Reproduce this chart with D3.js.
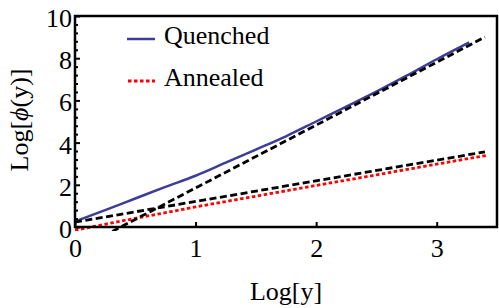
<!DOCTYPE html>
<html>
<head>
<meta charset="utf-8">
<script src="https://cdn.jsdelivr.net/npm/d3@7"></script>
<style>
  body { margin: 0; background: #fff; }
  svg { display: block; }
  svg text { font-family: "Liberation Serif", "Times New Roman", "DejaVu Serif", serif; }
</style>
</head>
<body>
<svg id="chart" width="499" height="308"></svg>
<script>
// values
const quenchedX = [0, 0.25, 0.5, 0.75, 1, 1.25, 1.5, 1.75, 2, 2.25, 2.5, 2.75, 3, 3.27];
const quenchedY = [0.26, 0.8, 1.35, 1.9, 2.43, 3.05, 3.67, 4.3, 5.0, 5.7, 6.42, 7.17, 7.95, 8.75];
const annealedX = [0, 0.25, 0.5, 0.75, 1, 1.5, 2, 2.5, 3, 3.41];
const annealedY = [-0.15, 0.13, 0.41, 0.68, 0.95, 1.46, 1.97, 2.47, 2.98, 3.39];
const steepX = [0, 3.4];
const steepY = [-1.13, 9.0];
const shallowX = [0, 3.4];
const shallowY = [0.23, 3.56];
const xTicks = [0, 1, 2, 3];
const yTicks = [0, 2, 4, 6, 8, 10];
const legendNames = ["Quenched", "Annealed"];

const svg = d3.select("#chart");
const plotLeft = 75, plotRight = 497, plotTop = 16, plotBottom = 227;

const x = d3.scaleLinear().domain([0, 3.5]).range([plotLeft, plotRight]);
const y = d3.scaleLinear().domain([0, 10]).range([plotBottom, plotTop]);

svg.append("defs").append("clipPath")
    .attr("id", "clip")
    .append("rect")
    .attr("x", plotLeft)
    .attr("y", plotTop)
    .attr("width", plotRight - plotLeft)
    .attr("height", plotBottom - plotTop + 4);

const zip = (xs, ys) => xs.map((v, i) => [v, ys[i]]);
const line = d3.line().x(d => x(d[0])).y(d => y(d[1])).curve(d3.curveMonotoneX);

const plot = svg.append("g").attr("clip-path", "url(#clip)");

plot.append("path")
    .attr("d", line(zip(quenchedX, quenchedY)))
    .attr("fill", "none")
    .attr("stroke", "#3d3d99")
    .attr("stroke-width", 2.5);

plot.append("path")
    .attr("d", line(zip(annealedX, annealedY)))
    .attr("fill", "none")
    .attr("stroke", "#ff0000")
    .attr("stroke-width", 2.8)
    .attr("stroke-dasharray", "3.5,2.5");

[zip(steepX, steepY), zip(shallowX, shallowY)].forEach(pts => {
    plot.append("path")
        .attr("d", line(pts))
        .attr("fill", "none")
        .attr("stroke", "#000")
        .attr("stroke-width", 2.8)
        .attr("stroke-dasharray", "7,3.5");
});

// axes with inward ticks
const yAxis = svg.append("g")
    .attr("transform", `translate(${plotLeft},0)`)
    .call(d3.axisLeft(y).tickValues(yTicks).tickFormat(d3.format("d"))
        .tickSizeInner(-5).tickSizeOuter(0).tickPadding(3));
yAxis.selectAll("text").attr("dy", "0.4em");

svg.append("g")
    .attr("transform", `translate(${plotLeft},0)`)
    .call(d3.axisLeft(y).tickValues(d3.range(0, 10.01, 0.4).filter(v => Math.abs(v / 2 - Math.round(v / 2)) > 0.01))
        .tickSizeInner(-3).tickSizeOuter(0).tickFormat(""));

svg.append("g")
    .attr("transform", `translate(0,${plotBottom})`)
    .call(d3.axisBottom(x).tickValues(xTicks).tickFormat(d3.format("d"))
        .tickSizeInner(-5).tickSizeOuter(0).tickPadding(11.5));

svg.selectAll(".domain").remove();
svg.selectAll("g").attr("font-family", null);
svg.selectAll(".tick line").attr("stroke", "#000").attr("stroke-width", 2);
svg.selectAll(".tick text")
    .attr("font-size", 26)
    .attr("fill", "#000");

svg.append("rect")
    .attr("x", plotLeft)
    .attr("y", plotTop)
    .attr("width", plotRight - plotLeft)
    .attr("height", plotBottom - plotTop)
    .attr("fill", "none")
    .attr("stroke", "#000")
    .attr("stroke-width", 2.5);

// axis labels
svg.append("text")
    .attr("x", 286)
    .attr("y", 300)
    .attr("text-anchor", "middle")
    .attr("font-size", 26)
    .text("Log[y]");

const ylab = svg.append("text")
    .attr("transform", "translate(28,120) rotate(-90)")
    .attr("text-anchor", "middle")
    .attr("font-size", 26);
ylab.append("tspan").text("Log[");
ylab.append("tspan").attr("font-style", "italic").text("ϕ");
ylab.append("tspan").text("(y)]");

// legend
const legend = svg.append("g");
legend.append("line")
    .attr("x1", 127).attr("x2", 155).attr("y1", 39).attr("y2", 39)
    .attr("stroke", "#3d3d99").attr("stroke-width", 2.5);
legend.append("line")
    .attr("x1", 128).attr("x2", 155).attr("y1", 81).attr("y2", 81)
    .attr("stroke", "#ff0000").attr("stroke-width", 2.8).attr("stroke-dasharray", "3.5,2.5");
legend.selectAll("text")
    .data(legendNames)
    .enter()
    .append("text")
    .attr("x", 164)
    .attr("y", (d, i) => 44 + i * 42)
    .attr("font-size", 26)
    .text(d => d);
</script>
</body>
</html>
